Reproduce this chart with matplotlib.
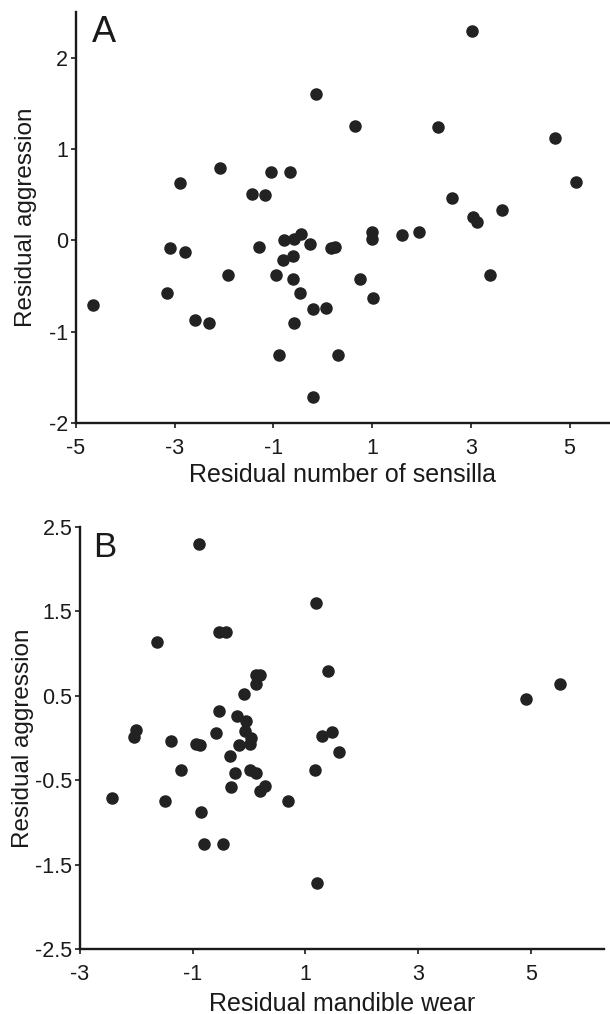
import matplotlib
matplotlib.use("Agg")
import matplotlib.pyplot as plt

plt.rcParams['font.family'] = ['Liberation Sans', 'DejaVu Sans']

# Panel A: residual number of sensilla vs residual aggression
sensilla_x = [3.02, -0.14, 0.65, 2.33, 4.70, -2.09, -2.89, -1.05, -0.67, -1.43,
              -1.17, 5.13, 2.61, 3.63, 3.04, 3.12, -3.10, -2.80, -1.30, -0.78,
              -0.59, -0.45, -0.26, 0.16, 0.24, 0.99, 0.99, 1.61, 1.94, -0.80,
              -0.60, -1.92, -0.95, -0.60, 0.75, 3.39, -4.66, -3.15, -0.46, 1.01,
              -2.58, -2.31, -0.20, 0.07, -0.58, -0.88, 0.30, -0.20]
aggression_a = [2.29, 1.60, 1.25, 1.24, 1.12, 0.79, 0.63, 0.75, 0.75, 0.51,
                0.50, 0.64, 0.46, 0.33, 0.26, 0.20, -0.08, -0.13, -0.07, 0.00,
                0.01, 0.07, -0.04, -0.08, -0.07, 0.09, 0.01, 0.06, 0.09, -0.21,
                -0.17, -0.38, -0.38, -0.42, -0.42, -0.38, -0.71, -0.58, -0.58, -0.63,
                -0.87, -0.90, -0.75, -0.74, -0.90, -1.26, -1.25, -1.71]

# Panel B: residual mandible wear vs residual aggression
wear_x = [-0.885, 1.18, -0.54, -0.40, -1.63, 1.41, 0.13, 0.19, 0.13, -0.09,
          4.92, 5.52, -0.54, -0.21, -0.05, -2.00, -2.04, -1.39, -0.94, -0.87,
          -0.58, -0.07, 0.04, 0.02, -0.17, -0.33, 1.29, 1.48, 1.60, -1.20,
          -0.25, 0.01, 0.13, 1.17, -0.32, 0.28, 0.20, -2.44, -1.49, 0.69,
          -0.85, -0.80, -0.46, 1.20]
aggression_b = [2.30, 1.60, 1.25, 1.25, 1.13, 0.79, 0.74, 0.75, 0.64, 0.52,
                0.46, 0.64, 0.32, 0.26, 0.20, 0.10, 0.01, -0.04, -0.07, -0.08,
                0.06, 0.08, 0.00, -0.07, -0.08, -0.21, 0.02, 0.07, -0.17, -0.38,
                -0.41, -0.38, -0.42, -0.38, -0.58, -0.57, -0.63, -0.71, -0.74, -0.75,
                -0.88, -1.26, -1.25, -1.71]

xticks_a = [-5, -3, -1, 1, 3, 5]
yticks_a = [-2, -1, 0, 1, 2]
xticks_b = [-3, -1, 1, 3, 5]
yticks_b = [-2.5, -1.5, -0.5, 0.5, 1.5, 2.5]

fig = plt.figure(figsize=(6.1, 10.14), dpi=100)
axA = fig.add_axes([76/610, 1-423/1014, (609-76)/610, (423-12)/1014])
axB = fig.add_axes([80/610, 1-949.3/1014, (604-80)/610, (949.3-526.7)/1014])

dot = '#222222'
ink = '#1a1a1a'

def style(ax):
    for s in ['top', 'right']:
        ax.spines[s].set_visible(False)
    for s in ['left', 'bottom']:
        ax.spines[s].set_linewidth(1.7)
        ax.spines[s].set_color(ink)
    ax.tick_params(axis='both', direction='out', length=3.5, width=1.2,
                   labelsize=15.5, colors=ink)
    ax.tick_params(axis='x', pad=7)
    ax.tick_params(axis='y', pad=2)

axA.plot(sensilla_x, aggression_a, 'o', ms=8, color=dot, mec=dot, clip_on=False)
axA.set_xlim(-5, 5.8)
axA.set_ylim(-2, 2.5)
axA.set_xticks(xticks_a)
axA.set_xticklabels([str(v) for v in xticks_a])
axA.set_yticks(yticks_a)
axA.set_yticklabels([str(v) for v in yticks_a])
style(axA)
axA.set_xlabel('Residual number of sensilla', fontsize=18, labelpad=3, color=ink)
axA.set_ylabel('Residual aggression', fontsize=17.5, labelpad=9, color=ink)
axA.text(0.03, 0.993, 'A', transform=axA.transAxes, fontsize=26,
         va='top', ha='left', color=ink)

axB.plot(wear_x, aggression_b, 'o', ms=8, color=dot, mec=dot, clip_on=False)
axB.set_xlim(-3, 6.3)
axB.set_ylim(-2.5, 2.5)
axB.set_xticks(xticks_b)
axB.set_xticklabels([str(v) for v in xticks_b])
axB.set_yticks(yticks_b)
axB.set_yticklabels([str(v) for v in yticks_b])
style(axB)
axB.set_xlabel('Residual mandible wear', fontsize=18, labelpad=5, color=ink)
axB.set_ylabel('Residual aggression', fontsize=17.5, labelpad=1, color=ink)
axB.text(0.025, 0.99, 'B', transform=axB.transAxes, fontsize=25,
         va='top', ha='left', color=ink)

fig.savefig('out.png', dpi=100)
